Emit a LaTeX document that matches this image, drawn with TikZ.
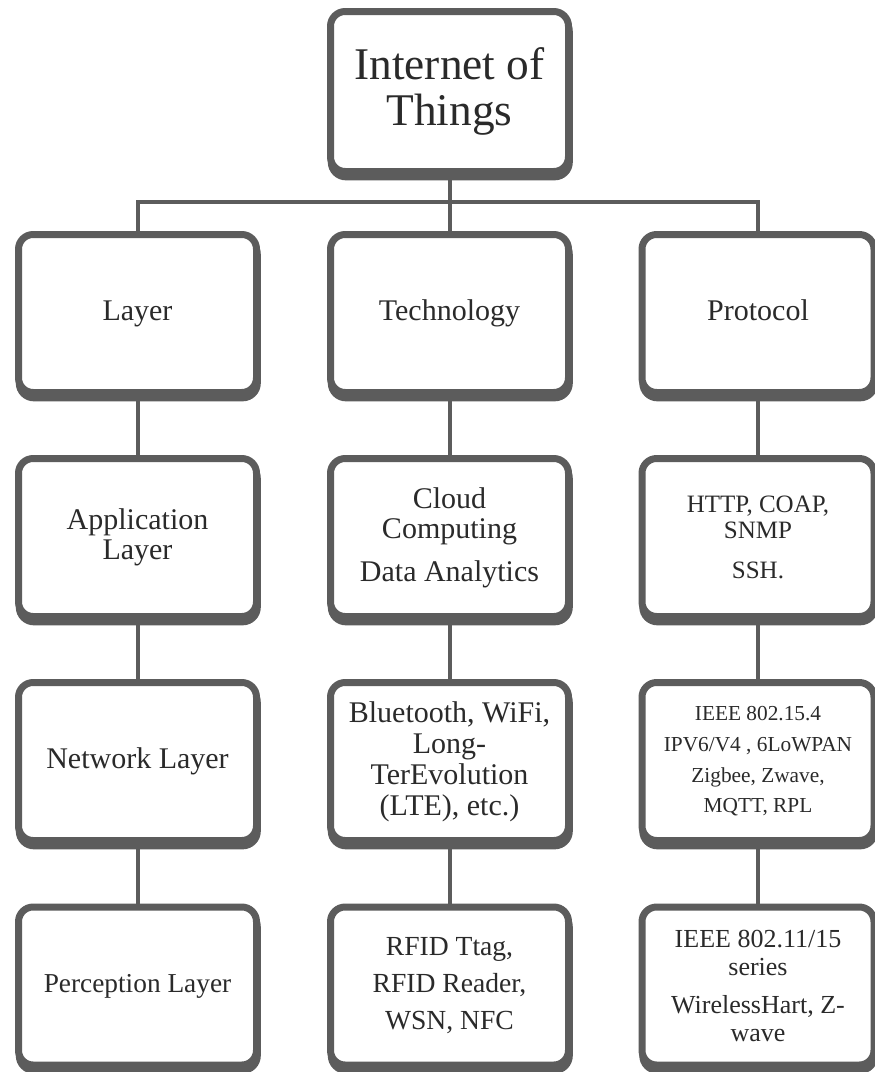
\documentclass[tikz,border=0pt]{standalone}
\usepackage{fontspec}
\setmainfont{Liberation Serif}
\usetikzlibrary{shadows}
\definecolor{boxgray}{HTML}{5C5C5C}
\definecolor{txtgray}{HTML}{2A2A2A}
\tikzset{
  box/.style={draw=boxgray, line width=5.25pt, rounded corners=11pt, fill=white,
    minimum width=178.5pt, minimum height=118.5pt, align=center, text=txtgray,
    inner sep=2pt,
    drop shadow={shadow xshift=0.6pt, shadow yshift=-4pt, draw=boxgray, line width=5.25pt, fill=boxgray, opacity=1}},
  rbox/.style={box, minimum width=174pt},
  topbox/.style={box, minimum height=120pt},
  conn/.style={draw=boxgray, line width=3pt},
  fmain/.style={font=\fontsize{22.5pt}{22.5pt}\selectfont},
}
\begin{document}
\begin{tikzpicture}[x=0.75pt,y=-0.75pt]
\useasboundingbox (0,0) rectangle (875,1072);
% top
\node[topbox, font=\fontsize{34pt}{34.5pt}\selectfont] (iot) at (449.5,91.5) {Internet of\\Things};
% row 2
\node[box, fmain] (lay) at (137.5,313.5) {Layer};
\node[box, fmain] (tech) at (449.5,313.5) {Technology};
\node[rbox, fmain] (pro) at (758,313.5) {Protocol\vphantom{y}};
% row 3
\node[box, fmain] (app) at (137.5,537.5) {Application\\Layer};
\node[box, fmain] (cloud) at (449.5,537.5) {Cloud\\Computing\\[10pt]Data Analytics};
\node[rbox, font=\fontsize{18.75pt}{19.5pt}\selectfont] (http) at (758,537.5) {HTTP, COAP,\\SNMP\\[10pt]SSH.};
% row 4
\node[box, fmain] (net) at (137.5,761.5) {Network Layer};
\node[box, font=\fontsize{22.5pt}{23.25pt}\selectfont] (blue) at (449.5,761.5) {Bluetooth, WiFi,\\Long-\\TerEvolution\\(LTE), etc.)};
\node[rbox, font=\fontsize{16pt}{23pt}\selectfont] (ieee) at (758,761.5) {IEEE 802.15.4\\IPV6/V4 , 6LoWPAN\\Zigbee, Zwave,\\MQTT, RPL};
% row 5
\node[box, font=\fontsize{20.5pt}{22pt}\selectfont] (per) at (137.5,986) {Perception Layer};
\node[box, font=\fontsize{20.7pt}{27.75pt}\selectfont] (rfid) at (449.5,986) {RFID Ttag,\\RFID Reader,\\WSN, NFC};
\node[rbox, font=\fontsize{19.5pt}{21pt}\selectfont] (wl) at (758,986) {IEEE 802.11/15\\series\\[7.5pt]WirelessHart, Z-\\wave};
% connectors
\coordinate (bar) at (449.5,202);
\draw[conn] (iot.south) -- (bar);
\draw[conn] (lay.north) |- (bar) -| (pro.north);
\draw[conn] (bar) -- (tech.north);
\draw[conn] (lay) -- (app);
\draw[conn] (app) -- (net);
\draw[conn] (net) -- (per);
\draw[conn] (tech) -- (cloud);
\draw[conn] (cloud) -- (blue);
\draw[conn] (blue) -- (rfid);
\draw[conn] (pro) -- (http);
\draw[conn] (http) -- (ieee);
\draw[conn] (ieee) -- (wl);
\end{tikzpicture}
\end{document}
